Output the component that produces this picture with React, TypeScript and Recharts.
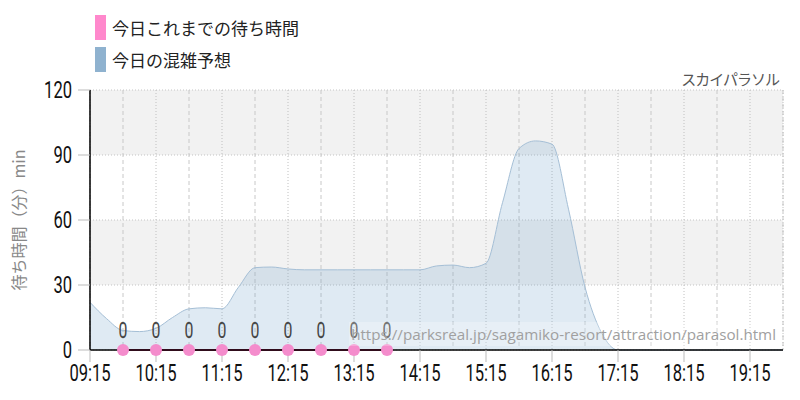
import React from 'react'
import { ComposedChart, Area, Line, XAxis, YAxis, CartesianGrid, LabelList } from 'recharts'

// 15-minute slots, 09:15 - 19:45
const times = [
  '09:15', '09:30', '09:45', '10:00', '10:15', '10:30', '10:45', '11:00', '11:15', '11:30', '11:45',
  '12:00', '12:15', '12:30', '12:45', '13:00', '13:15', '13:30', '13:45', '14:00', '14:15', '14:30',
  '14:45', '15:00', '15:15', '15:30', '15:45', '16:00', '16:15', '16:30', '16:45', '17:00', '17:15',
  '17:30', '17:45', '18:00', '18:15', '18:30', '18:45', '19:00', '19:15', '19:30', '19:45',
]

// 今日の混雑予想
const forecast = [
  22, 14.5, 9, 8.5, 10, 15, 19, 19.5, 19, 29, 38,
  38.3, 37.4, 37, 37, 37, 37, 37, 37, 37, 37, 38.8,
  39.2, 38, 40, 68, 93, 96.5, 95, 65, 29, 8, 0,
  0, 0, 0, 0, 0, 0, 0, 0, 0, 0,
]

// 今日これまでの待ち時間 (recorded every 30 min)
const actualTimes = ['09:45', '10:15', '10:45', '11:15', '11:45', '12:15', '12:45', '13:15', '13:45']
const actualValues = [0, 0, 0, 0, 0, 0, 0, 0, 0]

const hourTicks = ['09:15', '10:15', '11:15', '12:15', '13:15', '14:15', '15:15', '16:15', '17:15', '18:15', '19:15']
const halfTicks = ['09:45', '10:45', '11:45', '12:45', '13:45', '14:45', '15:45', '16:45', '17:45', '18:45', '19:45']
const yTicks = [0, 30, 60, 90, 120]

const toMin = (s: string) => {
  const [h, m] = s.split(':').map(Number)
  return h * 60 + m
}
const fmt = (v: number) => {
  const h = Math.floor(v / 60)
  const m = v % 60
  return `${String(h).padStart(2, '0')}:${String(m).padStart(2, '0')}`
}

const data = times.map((t, i) => {
  const k = actualTimes.indexOf(t)
  return { t: toMin(t), forecast: forecast[i], actual: k >= 0 ? actualValues[k] : null }
})

const numFont = 'Roboto, "DejaVu Sans", sans-serif'
const jpFont = '"Noto Sans CJK JP", "Noto Sans", sans-serif'

// condensed-looking numerals: squeeze the text horizontally
const Narrow = ({ x, y, anchor, size, fill, children }: any) => (
  <text
    transform={`translate(${x},${y}) scale(0.72,1)`}
    textAnchor={anchor}
    fontSize={size}
    fill={fill}
    fontFamily={numFont}
  >
    {children}
  </text>
)

const XTick = (props: any) => {
  const { x, y, payload } = props
  return (
    <Narrow x={x} y={y + 17} anchor="middle" size={23} fill="#111">
      {fmt(payload.value)}
    </Narrow>
  )
}

const YTick = (props: any) => {
  const { x, y, payload } = props
  return (
    <Narrow x={x} y={y + 8} anchor="end" size={23} fill="#111">
      {payload.value}
    </Narrow>
  )
}

const ZeroLabel = (props: any) => {
  const { x, y, value } = props
  if (value == null) return null
  return (
    <Narrow x={x} y={y - 12} anchor="middle" size={22} fill="#444">
      {value}
    </Narrow>
  )
}

export default function App() {
  return (
    <div style={{ position: 'absolute', left: 0, top: 0, width: 800, height: 400, background: '#fff' }}>
      <ComposedChart width={800} height={400} data={data} margin={{ top: 90, right: 17, bottom: 0, left: 0 }}>
        <CartesianGrid
          vertical={false}
          stroke="#c4c4c4"
          strokeDasharray="1 2"
          horizontalFill={['#f2f2f2', '#ffffff']}
          fillOpacity={1}
        />
        <CartesianGrid horizontal={false} xAxisId="half" stroke="#c8c8c8" strokeDasharray="4 3" />
        <CartesianGrid horizontal={false} stroke="#c0c0c0" strokeDasharray="1 2" />
        <XAxis
          xAxisId="half"
          dataKey="t"
          type="number"
          domain={[toMin('09:15'), toMin('19:45')]}
          ticks={halfTicks.map(toMin)}
          hide
        />
        <XAxis
          dataKey="t"
          type="number"
          domain={[toMin('09:15'), toMin('19:45')]}
          ticks={hourTicks.map(toMin)}
          height={50}
          axisLine={{ stroke: '#000', strokeWidth: 1.5 }}
          tickLine={{ stroke: '#bbb' }}
          tickSize={12}
          tickMargin={2}
          tick={<XTick />}
          interval={0}
        />
        <YAxis
          domain={[0, 120]}
          ticks={yTicks}
          width={90}
          axisLine={{ stroke: '#000', strokeWidth: 1.5 }}
          tickLine={{ stroke: '#bbb' }}
          tickSize={12}
          tickMargin={6}
          tick={<YTick />}
          interval={0}
        />
        <Area
          type="monotone"
          dataKey="forecast"
          stroke="#a5bfd6"
          strokeWidth={1}
          fill="rgb(110,160,200)"
          fillOpacity={0.22}
          isAnimationActive={false}
        />
        <Line
          type="linear"
          dataKey="actual"
          stroke="#c0306e"
          strokeWidth={2}
          connectNulls
          dot={{ r: 6, fill: '#f48ccc', stroke: 'none', fillOpacity: 1 }}
          activeDot={false}
          isAnimationActive={false}
        >
          <LabelList dataKey="actual" content={<ZeroLabel />} />
        </Line>
      </ComposedChart>

      <div style={{ position: 'absolute', left: 95, top: 15, fontFamily: jpFont, fontSize: 17, color: '#222' }}>
        <div style={{ display: 'flex', alignItems: 'center', height: 25 }}>
          <span style={{ display: 'inline-block', width: 11, height: 25, background: '#ff88cc', marginRight: 6 }} />
          今日これまでの待ち時間
        </div>
        <div style={{ display: 'flex', alignItems: 'center', height: 25, marginTop: 7 }}>
          <span style={{ display: 'inline-block', width: 11, height: 25, background: '#8fb2cf', marginRight: 6 }} />
          今日の混雑予想
        </div>
      </div>

      <div
        style={{
          position: 'absolute', right: 21, top: 68, fontFamily: jpFont, fontSize: 15, color: '#555',
          letterSpacing: -1,
        }}
      >
        スカイパラソル
      </div>

      <div
        style={{
          position: 'absolute', left: 18, top: 220, transform: 'translate(-50%, -50%) rotate(-90deg)',
          whiteSpace: 'nowrap', fontFamily: jpFont, fontSize: 16, color: '#888',
        }}
      >
        待ち時間（分）min
      </div>

      <div
        style={{
          position: 'absolute', right: 22, top: 322, height: 24, lineHeight: '24px', padding: '0 2px',
          background: 'rgba(255,255,255,0.25)', fontFamily: '"Open Sans", "Noto Sans", sans-serif',
          fontSize: 15.2, color: '#a0a0a0', whiteSpace: 'nowrap',
        }}
      >
        https://parksreal.jp/sagamiko-resort/attraction/parasol.html
      </div>
    </div>
  )
}
